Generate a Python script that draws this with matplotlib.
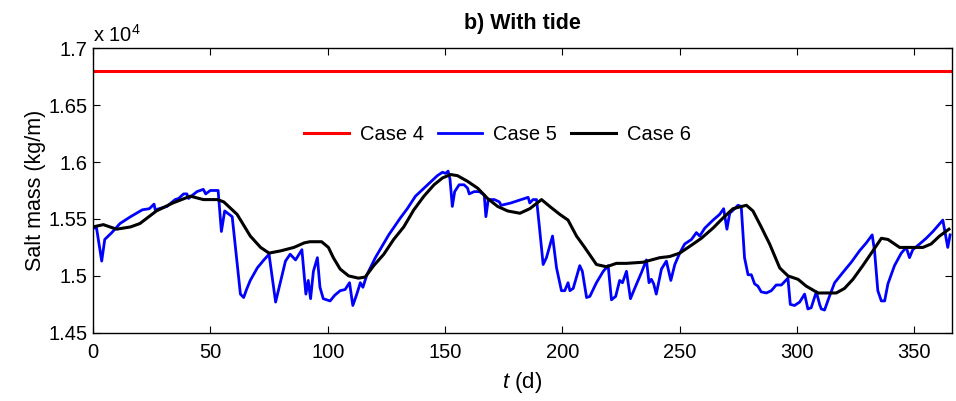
import matplotlib
matplotlib.use("Agg")
import matplotlib.pyplot as plt
from matplotlib.ticker import FuncFormatter

plt.rcParams['font.family'] = ['Liberation Sans', 'DejaVu Sans']
plt.rcParams['mathtext.fontset'] = 'custom'
plt.rcParams['mathtext.rm'] = 'Liberation Sans'
plt.rcParams['mathtext.it'] = 'Liberation Sans:italic'
plt.rcParams['mathtext.bf'] = 'Liberation Sans:bold'

# Case 4 (constant)
case4_t = [0, 365]
case4_v = [1.680, 1.680]

# Case 5 (blue)
case5_t = [0, 1.5, 3.7, 5, 8, 11.5, 16, 21, 24, 26, 26.5, 31.5, 35, 36.5, 38.6, 40, 40.7, 44.3,
           47, 48, 50, 53.3, 54.7, 56.1, 59.3, 62.8, 64.2, 65.4, 67, 70, 72.8, 75, 77.8, 80, 82,
           84, 86.3, 89, 90.7, 91.7, 92.7, 93.9, 95.6, 96.7, 98.1, 101, 103, 105.3, 107.4, 109.3,
           110.7, 112.4, 113.9, 115, 116.7, 120.3, 126, 131, 133.9, 137.4, 141, 144.6, 146.7,
           148.9, 150.3, 151.3, 152.1, 153.1, 154.1, 156, 158.1, 159.6, 160.3, 162.4, 164.6,
           166.7, 167.4, 168.4, 171, 173.1, 173.9, 178, 182.4, 185.4, 186.1, 187.5, 189, 190.1,
           191.8, 193.2, 195.8, 197.5, 199.6, 201, 202.4, 203.2, 204.6, 207.4, 208.5, 210.3,
           211.7, 214.5, 217.4, 219.5, 220.9, 222.7, 224.4, 225.6, 227.3, 229, 230.8, 233.7,
           235.8, 236.9, 237.9, 238.9, 240, 242.2, 244.3, 246.2, 247.9, 250, 252.1, 255, 257.1,
           258.5, 260.7, 264.2, 267, 268.7, 270.1, 271.3, 273.4, 274.8, 276.2, 277.6, 279.1,
           280.5, 281.9, 283.3, 284.7, 286.9, 289, 291.1, 293.3, 296.1, 297.1, 298.9, 301.1,
           303.2, 304.6, 306, 308.2, 309.6, 310.3, 311.7, 313.6, 316, 319.5, 323.1, 326.6,
           329.5, 332, 333, 334.4, 335.9, 337.3, 338.7, 341.5, 344.4, 346.5, 347.9, 349.3,
           352.2, 355, 357.9, 360.4, 362.1, 364.2, 365.2]
case5_v = [1.542, 1.542, 1.513, 1.532, 1.538, 1.546, 1.552, 1.558, 1.559, 1.563, 1.558, 1.561,
           1.567, 1.568, 1.572, 1.572, 1.568, 1.574, 1.576, 1.572, 1.575, 1.575, 1.539, 1.557,
           1.552, 1.484, 1.481, 1.488, 1.496, 1.507, 1.514, 1.519, 1.477, 1.496, 1.513, 1.519,
           1.514, 1.523, 1.484, 1.496, 1.480, 1.504, 1.516, 1.490, 1.480, 1.478, 1.483, 1.487,
           1.488, 1.494, 1.474, 1.484, 1.494, 1.490, 1.501, 1.516, 1.536, 1.551, 1.559, 1.570,
           1.577, 1.584, 1.588, 1.591, 1.590, 1.592, 1.585, 1.561, 1.574, 1.580, 1.580, 1.577,
           1.572, 1.574, 1.574, 1.571, 1.552, 1.567, 1.567, 1.565, 1.562, 1.564, 1.567, 1.569,
           1.564, 1.567, 1.567, 1.545, 1.510, 1.516, 1.535, 1.507, 1.487, 1.487, 1.494, 1.487,
           1.489, 1.509, 1.504, 1.481, 1.482, 1.494, 1.504, 1.509, 1.479, 1.482, 1.496, 1.494,
           1.504, 1.480, 1.489, 1.503, 1.514, 1.494, 1.497, 1.493, 1.484, 1.506, 1.513, 1.496,
           1.510, 1.520, 1.528, 1.532, 1.538, 1.535, 1.542, 1.549, 1.554, 1.559, 1.541, 1.555,
           1.559, 1.562, 1.561, 1.516, 1.501, 1.501, 1.493, 1.491, 1.486, 1.485, 1.487, 1.492,
           1.492, 1.498, 1.475, 1.474, 1.477, 1.484, 1.471, 1.472, 1.486, 1.475, 1.471, 1.470,
           1.481, 1.494, 1.503, 1.512, 1.522, 1.529, 1.536, 1.522, 1.487, 1.478, 1.478, 1.493,
           1.509, 1.520, 1.525, 1.516, 1.523, 1.528, 1.533, 1.539, 1.545, 1.549, 1.525, 1.536]

# Case 6 (black)
case6_t = [0, 4.4, 10, 16, 20, 27, 34, 41.5, 47, 53, 55.7, 61.4, 67, 71.4, 75, 80, 85.6, 90,
           92.4, 97.4, 100.3, 102.4, 105.3, 108.9, 113.1, 116, 119.6, 123.9, 128.1, 132.4,
           136.7, 141, 145.3, 148.9, 152.4, 155.3, 159.6, 163.9, 168.1, 172.4, 176.7, 181.9,
           186.1, 191.1, 194.6, 198.9, 202.4, 206, 209.5, 214.5, 218.8, 223, 227.3, 234.4,
           241.5, 245.7, 250, 254.3, 259.2, 264.2, 268.5, 272.7, 278.4, 281.2, 284.7, 288.3,
           292.6, 296.1, 300.4, 303.9, 308.9, 316.7, 320.2, 323.8, 328, 332.3, 335.9, 338.7,
           343.7, 347.9, 353.6, 357.1, 360.7, 364.7]
case6_v = [1.543, 1.545, 1.541, 1.543, 1.546, 1.557, 1.564, 1.570, 1.567, 1.567, 1.565, 1.554,
           1.535, 1.525, 1.520, 1.522, 1.525, 1.529, 1.530, 1.530, 1.525, 1.516, 1.506, 1.500,
           1.498, 1.499, 1.509, 1.519, 1.532, 1.543, 1.558, 1.570, 1.580, 1.586, 1.589, 1.588,
           1.583, 1.577, 1.568, 1.561, 1.557, 1.555, 1.559, 1.567, 1.561, 1.554, 1.549, 1.535,
           1.525, 1.510, 1.508, 1.511, 1.511, 1.512, 1.516, 1.517, 1.520, 1.526, 1.533, 1.542,
           1.551, 1.559, 1.562, 1.557, 1.543, 1.528, 1.507, 1.500, 1.497, 1.491, 1.485, 1.485,
           1.489, 1.497, 1.509, 1.522, 1.533, 1.532, 1.525, 1.525, 1.525, 1.528, 1.535, 1.541]

xticks = [0, 50, 100, 150, 200, 250, 300, 350]
yticks = [1.45, 1.5, 1.55, 1.6, 1.65, 1.7]

fig = plt.figure(figsize=(9.56, 4.01), dpi=100)
ax = fig.add_axes([0.0973, 0.170, 0.8985, 0.710])

ax.plot(case4_t, case4_v, color='#ff0000', lw=2.2, label='Case 4')
ax.plot(case5_t, case5_v, color='#0000ff', lw=2.0, label='Case 5')
ax.plot(case6_t, case6_v, color='#000000', lw=2.2, label='Case 6')

ax.set_xlim(0, 366)
ax.set_ylim(1.45, 1.7)
ax.set_xticks(xticks)
ax.set_yticks(yticks)
ax.yaxis.set_major_formatter(FuncFormatter(lambda v, p: ('%g' % round(v, 3))))
ax.tick_params(direction='in', top=True, right=True, labelsize=14.5, length=5, width=0.8)
ax.tick_params(axis='x', pad=7)
ax.tick_params(axis='y', pad=4)
for s in ax.spines.values():
    s.set_linewidth(1.0)

ax.set_title('b) With tide', fontsize=15.5, fontweight='bold', pad=14)
ax.set_xlabel(r'$\it{t}$ (d)', fontsize=16, labelpad=6)
ax.set_ylabel('Salt mass (kg/m)', fontsize=15.5, labelpad=2)
ax.text(0.0, 1.021, r'x 10$^4$', transform=ax.transAxes, fontsize=14.5, ha='left', va='baseline')

ax.legend(loc='center', bbox_to_anchor=(0.471, 0.698), ncol=3, frameon=False, fontsize=14.5,
          handlelength=2.2, columnspacing=0.7, handletextpad=0.55)

fig.savefig('out.png', dpi=100)
